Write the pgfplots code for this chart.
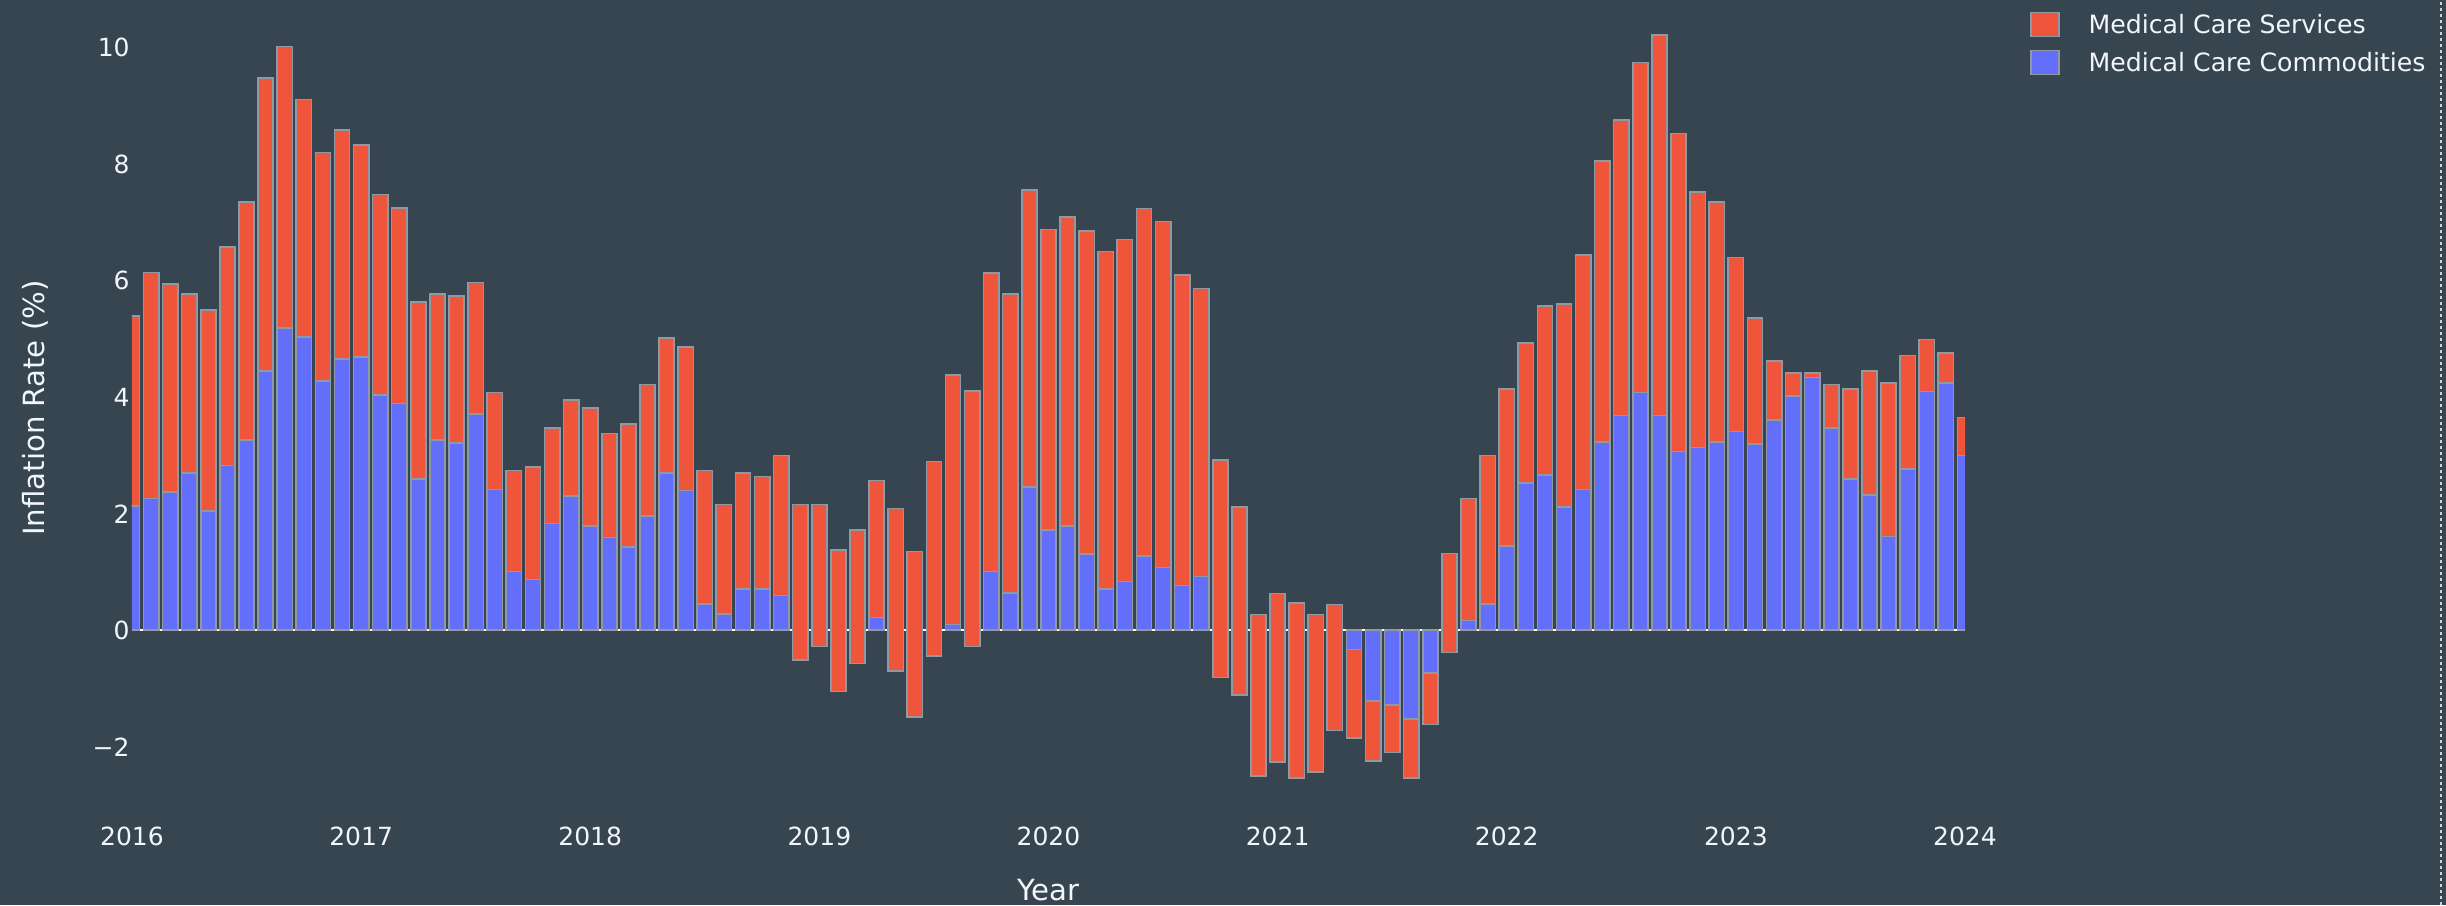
\documentclass[border=0pt]{standalone}
\usepackage{fontspec}
\setmainfont{DejaVu Sans}
\usepackage{pgfplots}
\pgfplotsset{compat=1.18}
\usepackage{pgfplotstable}
\definecolor{bg}{HTML}{36454F}
\definecolor{cblue}{HTML}{636EFA}
\definecolor{cred}{HTML}{EF553B}
\definecolor{barline}{HTML}{8E99A3}
\definecolor{txt}{HTML}{F2F5FA}
\definecolor{edgeline}{HTML}{C8D2D8}

% i = months since Jan 2016; b = commodities; r = services (stacked on b)
\pgfplotstableread{
i b r
0 2.13 3.26
1 2.26 3.88
2 2.37 3.57
3 2.70 3.07
4 2.05 3.45
5 2.83 3.75
6 3.27 4.08
7 4.45 5.03
8 5.19 4.83
9 5.03 4.08
10 4.28 3.92
11 4.66 3.93
12 4.69 3.64
13 4.04 3.44
14 3.89 3.36
15 2.60 3.04
16 3.27 2.50
17 3.21 2.53
18 3.71 2.26
19 2.42 1.66
20 1.01 1.73
21 0.87 1.93
22 1.83 1.64
23 2.30 1.65
24 1.79 2.03
25 1.59 1.79
26 1.43 2.11
27 1.96 2.26
28 2.70 2.32
29 2.40 2.46
30 0.45 2.29
31 0.28 1.88
32 0.71 1.99
33 0.71 1.93
34 0.60 2.40
35 -0.51 2.67
36 -0.28 2.44
37 -1.05 2.43
38 -0.57 2.29
39 0.22 2.35
40 -0.70 2.79
41 -1.49 2.84
42 -0.44 3.34
43 0.10 4.28
44 -0.28 4.39
45 1.01 5.12
46 0.64 5.13
47 2.46 5.10
48 1.72 5.16
49 1.79 5.30
50 1.31 5.54
51 0.71 5.79
52 0.84 5.87
53 1.28 5.96
54 1.08 5.94
55 0.77 5.33
56 0.92 4.95
57 -0.81 3.73
58 -1.11 3.23
59 -2.50 2.77
60 -2.26 2.89
61 -2.54 3.01
62 -2.43 2.70
63 -1.72 2.16
64 -0.33 -1.52
65 -1.21 -1.03
66 -1.28 -0.82
67 -1.52 -1.02
68 -0.73 -0.89
69 -0.38 1.70
70 0.17 2.09
71 0.45 2.55
72 1.45 2.69
73 2.53 2.40
74 2.67 2.90
75 2.12 3.48
76 2.42 4.02
77 3.23 4.83
78 3.69 5.07
79 4.08 5.67
80 3.69 6.53
81 3.07 5.46
82 3.14 4.38
83 3.23 4.12
84 3.41 2.99
85 3.20 2.16
86 3.61 1.01
87 4.02 0.40
88 4.34 0.08
89 3.47 0.75
90 2.60 1.54
91 2.32 2.13
92 1.61 2.64
93 2.77 1.95
94 4.10 0.89
95 4.25 0.51
96 3.00 0.65
}\data

\pgfplotsset{
  common/.style={
    at={(0,0)}, anchor=south west,
    scale only axis, width=916.5pt, height=408.05pt,
    xmin=0, xmax=96, ymin=-3.19, ymax=10.82,
    enlargelimits=false,
  },
}

\begin{document}
\begin{tikzpicture}
\path[use as bounding box, fill=bg] (-66pt,-44.45pt) rectangle (1157pt,408.05pt);
% base axis: labels, zero line, commodities bars
\begin{axis}[
  common,
  ybar, bar width=0.8, bar shift=0pt,
  axis line style={draw=none},
  major tick length=0pt, tick style={draw=none},
  xtick={0,12,...,96},
  xticklabels={2016,2017,2018,2019,2020,2021,2022,2023,2024},
  ytick={-2,0,2,4,6,8,10},
  yticklabels={−2,0,2,4,6,8,10},
  extra y ticks={0}, extra y tick labels={},
  extra y tick style={grid=major, major grid style={white, line width=1pt}},
  ticklabel style={font=\fontsize{12.5}{15}\selectfont, text=txt},
  xticklabel style={anchor=center, yshift=-10.3pt, inner sep=0pt},
  yticklabel style={anchor=east, inner sep=0pt, xshift=-1pt},
  xlabel={Year}, ylabel={Inflation Rate (\%)},
  label style={font=\fontsize{14.6}{17}\selectfont, text=txt},
  xlabel style={at={(axis description cs:0.5,-0.0907)}, anchor=center, inner sep=0pt},
  ylabel style={at={(axis description cs:-0.0529,0.5)}, anchor=center, inner sep=0pt},
]
\addplot[fill=cblue, draw=barline, line width=0.8pt] table[x=i, y=b]{\data};
\end{axis}
% overlay axis: services bars stacked on commodities values, drawn on top
\begin{axis}[
  common, hide axis,
  ybar stacked, stack negative=on previous, bar width=0.8,
  legend cell align=left,
  legend style={at={(1.03546,0.98566)}, anchor=north west, draw=none, fill=none,
    inner sep=0pt, outer sep=0pt, row sep=6.2pt, column sep=14.5pt,
    font=\fontsize{12.6}{15}\selectfont, text=txt,
    nodes={inner sep=0pt, anchor=base west}},
]
\addlegendimage{legend image code/.code={\draw[fill=cred, draw=barline, line width=0.8pt] (0pt,-1.4pt) rectangle (14pt,10.6pt);}}
\addlegendentry{Medical Care Services}
\addlegendimage{legend image code/.code={\draw[fill=cblue, draw=barline, line width=0.8pt] (0pt,-1.4pt) rectangle (14pt,10.6pt);}}
\addlegendentry{Medical Care Commodities}
\addplot[draw=none, fill=none] table[x=i, y=b]{\data};
\addplot[fill=cred, draw=barline, line width=0.8pt] table[x=i, y=r]{\data};
\end{axis}
\draw[edgeline, line width=0.6pt, dash pattern=on 1.5pt off 1.5pt] (1154.5pt,-44.45pt) -- (1154.5pt,408.05pt);
\end{tikzpicture}
\end{document}
